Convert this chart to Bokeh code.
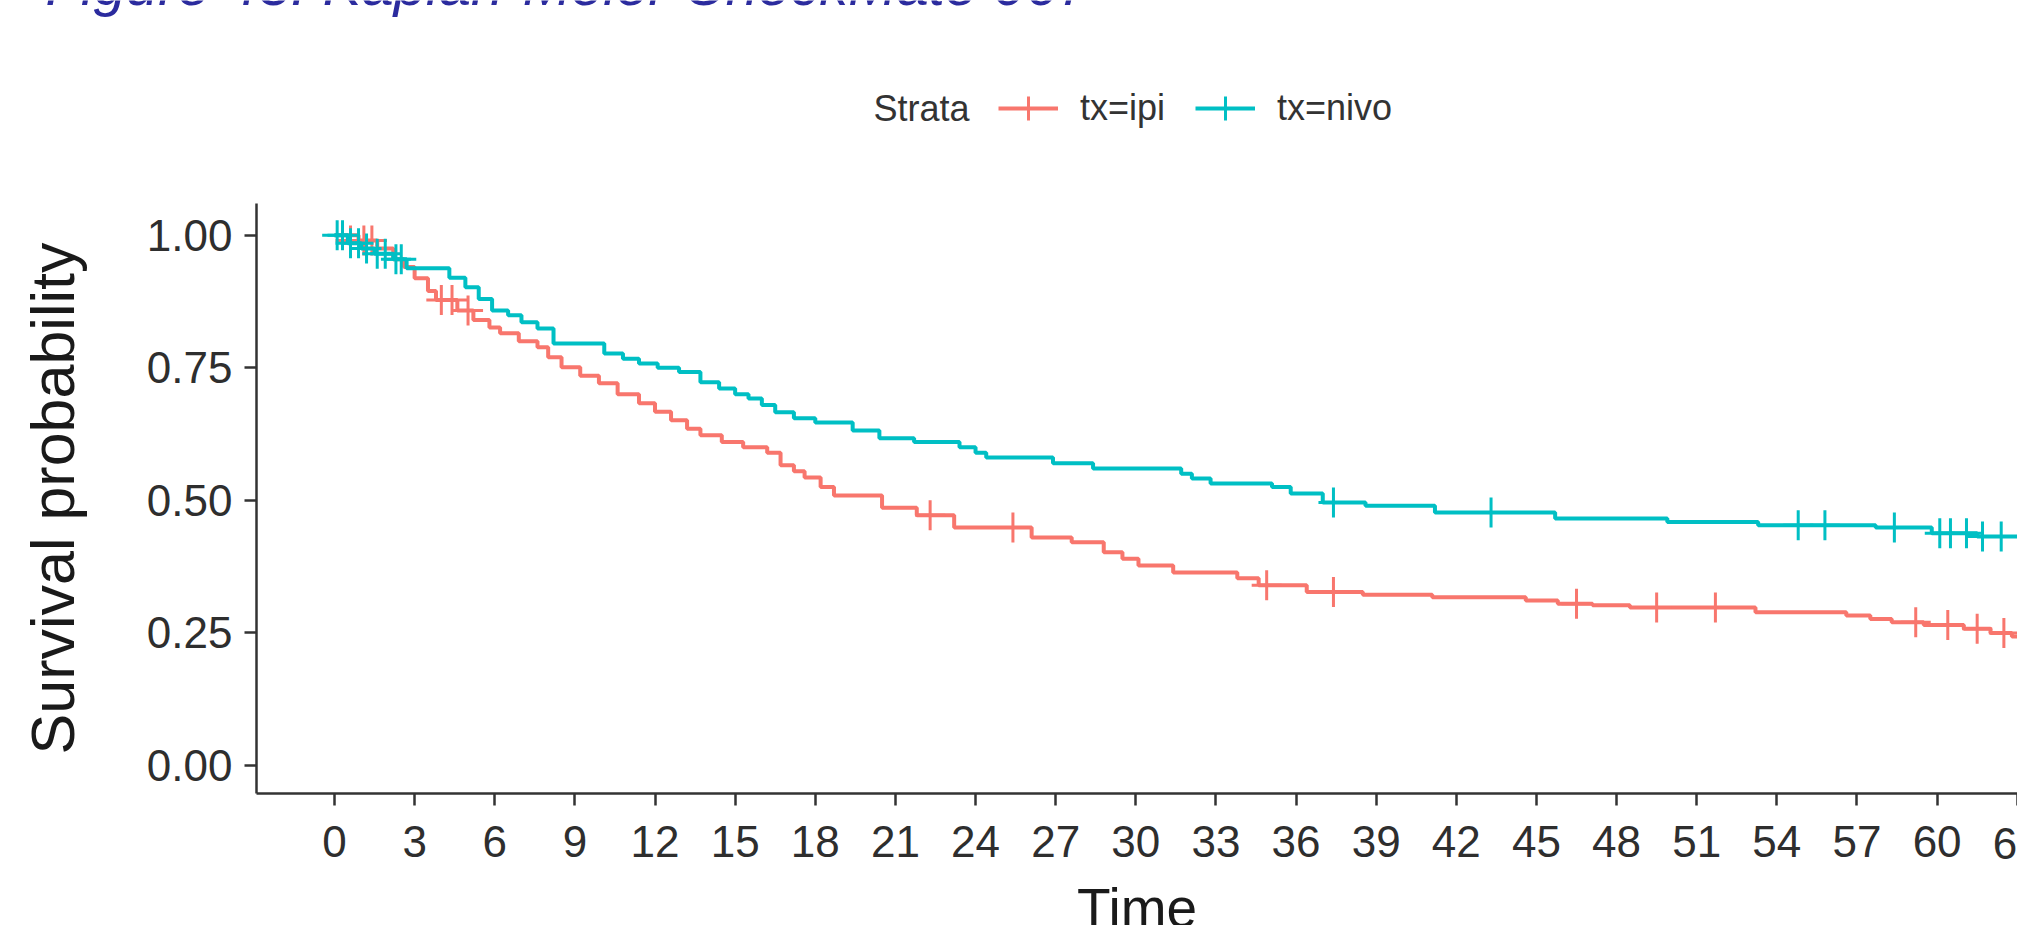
import math
from bokeh.plotting import figure
from bokeh.models import Label, Legend, LegendItem, FixedTicker, NumeralTickFormatter, Range1d
from bokeh.embed import file_html
from bokeh.resources import INLINE

TITLE = "Figure 43: Kaplan-Meier CheckMate 067"
LEGEND_TITLE = "Strata"
SERIES = ["tx=ipi", "tx=nivo"]
X_LABEL = "Time"
Y_LABEL = "Survival probability"
X_TICKS = list(range(0, 64, 3))
Y_TICKS = [0.0, 0.25, 0.5, 0.75, 1.0]

# tx=ipi Kaplan-Meier steps (time, survival after step)
ipi_t = [0, 0.9, 1.6, 2.2, 2.6, 3.0, 3.5, 3.8, 4.6, 5.2, 5.8, 6.2, 6.9, 7.6, 8.0, 8.5, 9.2, 9.9,
         10.6, 11.4, 12.0, 12.6, 13.2, 13.7, 14.5, 15.3, 16.2, 16.7, 17.2, 17.6, 18.2, 18.7,
         20.5, 21.8, 23.2, 26.1, 27.6, 28.8, 29.5, 30.1, 31.4, 33.8, 34.6, 36.4, 38.5, 41.1,
         44.6, 45.8, 47.1, 48.5, 53.2, 56.6, 57.5, 58.3, 59.5, 61.0, 62.0, 62.8, 63.0]
ipi_s = [1.0, 0.99, 0.975, 0.955, 0.94, 0.919, 0.895, 0.878, 0.858, 0.84, 0.826, 0.815, 0.80,
         0.789, 0.77, 0.751, 0.735, 0.721, 0.70, 0.683, 0.667, 0.651, 0.635, 0.623, 0.61, 0.60,
         0.59, 0.566, 0.555, 0.543, 0.525, 0.509, 0.486, 0.472, 0.449, 0.43, 0.421, 0.402, 0.39,
         0.377, 0.364, 0.353, 0.34, 0.327, 0.322, 0.317, 0.311, 0.305, 0.302, 0.298, 0.289,
         0.283, 0.276, 0.27, 0.265, 0.258, 0.25, 0.243, 0.243]
ipi_cens_t = [0.6, 1.1, 1.4, 4.0, 4.4, 5.0, 22.3, 25.4, 34.9, 37.4, 46.5, 49.5, 51.7, 59.2,
              60.4, 61.5, 62.5]
ipi_cens_s = [0.99, 0.99, 0.99, 0.878, 0.878, 0.858, 0.472, 0.449, 0.34, 0.327, 0.305, 0.298,
              0.298, 0.27, 0.265, 0.258, 0.25]

# tx=nivo Kaplan-Meier steps
nivo_t = [0, 0.5, 1.0, 1.5, 2.2, 2.7, 4.3, 4.9, 5.4, 5.9, 6.5, 7.0, 7.6, 8.2, 10.1, 10.8, 11.4,
          12.1, 12.9, 13.7, 14.4, 15.0, 15.5, 16.0, 16.5, 17.2, 18.0, 19.4, 20.4, 21.7, 23.4,
          24.0, 24.4, 26.9, 28.4, 31.7, 32.1, 32.8, 35.1, 35.8, 37.0, 38.6, 41.2, 45.7, 49.9,
          53.3, 57.7, 59.8, 61.5, 63.0]
nivo_s = [1.0, 0.985, 0.975, 0.965, 0.955, 0.938, 0.92, 0.902, 0.88, 0.858, 0.849, 0.836,
          0.824, 0.796, 0.777, 0.767, 0.758, 0.75, 0.742, 0.723, 0.711, 0.70, 0.692, 0.68,
          0.666, 0.655, 0.647, 0.632, 0.617, 0.61, 0.60, 0.59, 0.581, 0.57, 0.56, 0.55, 0.541,
          0.532, 0.525, 0.513, 0.496, 0.49, 0.477, 0.466, 0.459, 0.453, 0.449, 0.438, 0.432,
          0.428]
nivo_cens_t = [0.1, 0.3, 0.6, 0.9, 1.2, 1.6, 1.9, 2.3, 2.5, 37.4, 43.3, 54.8, 55.8, 58.4,
               60.1, 60.5, 61.1, 61.7, 62.4]
nivo_cens_s = [1.0, 1.0, 0.985, 0.985, 0.975, 0.965, 0.965, 0.955, 0.955, 0.496, 0.477,
               0.453, 0.453, 0.449, 0.438, 0.438, 0.438, 0.432, 0.432]

COLORS = ["#F8766D", "#00BFC4"]
FONT = "Liberation Sans"

# axis extents in data units
X_MIN, X_MAX = -2.92, 63.01
Y_MIN, Y_MAX = -0.053, 1.06

W, H = 2017, 925
FRAME_L, FRAME_T, FRAME_B = 256, 203, 793
xs = (W - FRAME_L) / (X_MAX - X_MIN)
ys = (FRAME_B - FRAME_T) / (Y_MAX - Y_MIN)

p = figure(width=W, height=H, title=None,
           x_range=Range1d(X_MIN - FRAME_L / xs, X_MAX),
           y_range=Range1d(Y_MIN - (H - FRAME_B) / ys, Y_MAX + FRAME_T / ys),
           output_backend="svg", toolbar_location=None,
           min_border_left=0, min_border_right=0, min_border_top=0, min_border_bottom=0)
p.outline_line_color = None
p.xgrid.visible = False
p.ygrid.visible = False
p.background_fill_color = "white"
p.border_fill_color = "white"

TICK_FONT_SIZE = "44px"
TICK_COLOR = "#2e2e2e"
for ax in (p.xaxis[0], p.yaxis[0]):
    ax.axis_line_color = "#333333"
    ax.axis_line_width = 2.5
    ax.major_tick_line_color = "#333333"
    ax.major_tick_line_width = 2.5
    ax.major_tick_out = 12
    ax.major_tick_in = 0
    ax.minor_tick_line_color = None
    ax.major_label_text_font = FONT
    ax.major_label_text_font_size = TICK_FONT_SIZE
    ax.major_label_text_color = TICK_COLOR

p.xaxis.fixed_location = Y_MIN
p.xaxis.bounds = (X_MIN, X_MAX)
p.yaxis.fixed_location = X_MIN
p.yaxis.bounds = (Y_MIN, Y_MAX)
p.xaxis.ticker = FixedTicker(ticks=X_TICKS)
p.yaxis.ticker = FixedTicker(ticks=Y_TICKS)
p.yaxis.formatter = NumeralTickFormatter(format="0.00")
p.xaxis.major_label_standoff = 11
p.yaxis.major_label_standoff = 12
# the last tick label sits on the right edge and is cut there, as in the reference
last_tick = X_TICKS[-1]
p.xaxis.major_label_overrides = {last_tick: " "}
p.add_layout(Label(x=last_tick, y=H - 843, x_units="data", y_units="screen",
                   text=str(last_tick), text_font=FONT, text_font_size=TICK_FONT_SIZE,
                   text_color=TICK_COLOR, text_align="center", text_baseline="middle"))

r_ipi = p.step(ipi_t, ipi_s, mode="after", line_color=COLORS[0], line_width=4)
c_ipi = p.scatter(ipi_cens_t, ipi_cens_s, marker="cross", size=30, line_color=COLORS[0],
                  line_width=3)
r_nivo = p.step(nivo_t, nivo_s, mode="after", line_color=COLORS[1], line_width=4)
c_nivo = p.scatter(nivo_cens_t, nivo_cens_s, marker="cross", size=30, line_color=COLORS[1],
                   line_width=3)

legend = Legend(items=[LegendItem(label=SERIES[0], renderers=[r_ipi, c_ipi]),
                       LegendItem(label=SERIES[1], renderers=[r_nivo, c_nivo])],
                orientation="horizontal", location=(998, H - 138),
                glyph_width=60, glyph_height=60, label_standoff=22, spacing=30,
                padding=0, margin=0, border_line_color=None, background_fill_alpha=0,
                label_text_font=FONT, label_text_font_size="36px",
                label_text_color="#333333")
p.add_layout(legend)

p.add_layout(Label(x=873, y=H - 108, x_units="screen", y_units="screen", text=LEGEND_TITLE,
                   text_font=FONT, text_font_size="36px", text_color="#333333",
                   text_baseline="middle", text_align="left"))
p.add_layout(Label(x=(FRAME_L + W) / 2, y=H - 907, x_units="screen", y_units="screen",
                   text=X_LABEL, text_font=FONT, text_font_size="55px", text_color="#1a1a1a",
                   text_baseline="middle", text_align="center"))
p.add_layout(Label(x=52, y=H - 498, x_units="screen", y_units="screen", text=Y_LABEL,
                   angle=math.pi / 2, text_font=FONT, text_font_size="61px",
                   text_color="#1a1a1a", text_baseline="middle", text_align="center"))
p.add_layout(Label(x=45, y=H + 16, x_units="screen", y_units="screen", text=TITLE,
                   text_font=FONT, text_font_size="58px", text_font_style="italic",
                   text_color="#2b2b9e", text_baseline="middle", text_align="left"))

open("out.html", "w").write(file_html(p, INLINE))
